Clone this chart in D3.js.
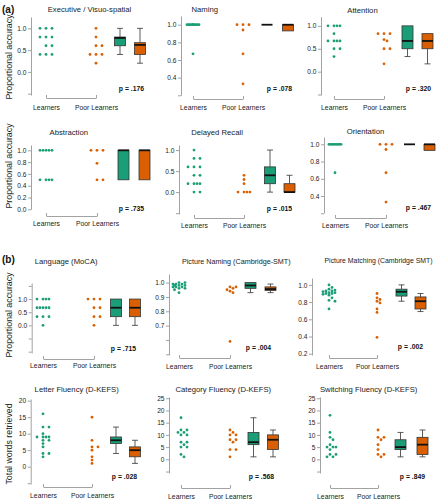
<!DOCTYPE html>
<html><head><meta charset="utf-8">
<script src="https://cdn.jsdelivr.net/npm/d3@7"></script>
<style>
body{margin:0;background:#fff}
svg{display:block}
text{font-family:"Liberation Sans",Arial,Helvetica,sans-serif}
</style>
</head><body>
<svg id="c" width="438" height="500"></svg>
<script>
// ---------------- DATA ----------------
const titles = ["Executive / Visuo-spatial","Naming","Attention","Abstraction","Delayed Recall","Orientation",
  "Language (MoCA)","Picture Naming (Cambridge-SMT)","Picture Matching (Cambridge SMT)",
  "Letter Fluency (D-KEFS)","Category Fluency (D-KEFS)","Switching Fluency (D-KEFS)"];
const groups = ["Learners","Poor Learners"];
const pValues = ["p = .176","p = .078","p = .320","p = .735","p = .015","p = .467",
  "p = .715","p = .004","p = .002","p = .028","p = .568","p = .849"];
const learners = [
  [1,1,1,0.8,0.8,0.8,0.6,0.6,0.4,0.4,0.4],
  [1,1,1,1,1,1,1,1,1,1,0.67],
  [1,1,1,1,0.83,0.67,0.67,0.67,0.67,0.5,0.5,0.33],
  [1,1,1,1,1,0.5,0.5,0.5,0.5],
  [1,0.8,0.8,0.6,0.6,0.6,0.4,0.4,0.2,0.2,0.2,0.2,0,0],
  [1,1,1,1,1,1,1,1,1,0.67],
  [1,1,1,1,0.67,0.67,0.67,0.67,0.67,0.33,0.33,0.33,0],
  [1.0,1.0,0.99,0.99,0.99,0.98,0.98,0.98,0.97,0.97,0.97,0.96,0.96,0.95,0.93],
  [1.0,0.97,0.95,0.94,0.93,0.93,0.92,0.91,0.91,0.9,0.9,0.89,0.88,0.85,0.82,0.81,0.72],
  [16,12,12,10,9,9,9,9,8,8,7,6,4,4,3],
  [17,12,12,11,11,10,10,7,7,6,5,5,2,1],
  [18,11,9,8,6,5,5,5,4,2,2,1,1]
];
const poorLearners = [
  [1,0.8,0.6,0.6,0.4,0.4,0.4,0.2],
  [1,1,1,0.94,0.67,0.33],
  [0.83,0.83,0.83,0.7,0.67,0.5,0.5,0.17],
  [1,1,1,0.78,0.5,0.5],
  [0.4,0.3,0.2,0,0,0,0],
  [1,1,1,0.94,0.67,0.33],
  [1,1,1,0.67,0.67,0.33,0.33,0],
  [0.97,0.97,0.96,0.95,0.94,0.93,0.59],
  [0.9,0.85,0.83,0.81,0.79,0.72,0.68,0.39],
  [15,8,6,6,5,3,2,1],
  [12,11,10,10,8,8,7,4,4,1],
  [12,9,9,8,6,4,2,2,1]
];
// box stats: [min, q1, median, q3, max]
const learnersBox = [
  [0.4,0.6,0.78,0.8,1.0],[1,1,1,1,1],[0.33,0.5,0.67,1,1],[0.5,0.5,1,1,1],
  [0,0.2,0.4,0.6,1],[1,1,1,1,1],[0,0.33,0.67,1,1],[0.93,0.96,0.98,1,1],
  [0.81,0.87,0.92,0.95,1.0],[4,7,8,9,12],[1,6,7,11,17],[1,4,5,8,11]
];
const poorBox = [
  [0.2,0.4,0.62,0.67,1.0],[0.93,0.93,1,1,1],[0.17,0.5,0.67,0.83,0.83],[0.5,0.5,1,1,1],
  [0,0,0,0.2,0.4],[0.93,0.93,1,1,1],[0,0.33,0.67,1,1],[0.93,0.945,0.955,0.97,0.99],
  [0.69,0.72,0.81,0.86,0.9],[1,3,5,6,8],[1,4,8,10,12],[1,2,6,9,12]
];
const yTicks = [
  [-0.5,0,0.5,1],[0.2,0.4,0.6,0.8,1],[-0.5,0,0.5,1],[0,0.2,0.4,0.6,0.8,1],
  [-0.5,0,0.5,1],[0.2,0.4,0.6,0.8,1],[-1,-0.5,0,0.5,1,1.5],[0.5,0.6,0.7,0.8,0.9,1],
  [0.2,0.4,0.6,0.8,1],[-5,0,5,10,15,20],[-5,0,5,10,15,20,25],[-5,0,5,10,15,20,25]
];
const yTickLabels = [
  ["0.0","0.5","1.0"],["0.4","0.6","0.8","1.0"],["0.0","0.5","1.0"],["0.0","0.2","0.4","0.6","0.8","1.0"],
  ["0.0","0.5","1.0"],["0.4","0.6","0.8","1.0"],["0.0","0.5","1.0"],["0.7","0.8","0.9","1.0"],
  ["0.2","0.4","0.6","0.8","1.0"],["0","5","10","15","20"],["0","5","10","15","20","25"],["0","5","10","15","20","25"]
];
const yLabels = ["Proportional accuracy","Proportional accuracy","Proportional accuracy","Total words retrieved"];
const sectionLabels = ["(a)","(b)"];

// ---------------- LAYOUT (pixels) ----------------
const layout = [
  {ax:31, dom:[-0.53,1.26], px:[95,17], bx:[46,96], by:98, ly:108, box:[120,140], tx:89.5, ty:9.5, pX:144, pY:89},
  {ax:181, dom:[0.2,1.1], px:[95.3,15.9], bx:[193,243], by:99, ly:108, box:[267,288], tx:204.7, ty:9.5, pX:292, pY:89},
  {ax:321, dom:[-0.51,1.2], px:[95,16.7], bx:[334,384], by:99, ly:108, box:[407.5,427.5], tx:362.5, ty:10, pX:431, pY:89},
  {ax:31, dom:[0,1.09], px:[209.3,145], bx:[46,97], by:216, ly:224, box:[123.5,144.5], tx:68.8, ty:132.3, pX:144, pY:209},
  {ax:179, dom:[-0.52,1.12], px:[214,145], bx:[194,244], by:218, ly:226, box:[270,289.5], tx:217, ty:132.3, pX:292, pY:209},
  {ax:324, dom:[0.203,1.085], px:[213,137], bx:[335,386], by:218, ly:226, box:[409.5,429.5], tx:365.5, ty:131, pX:431, pY:208},
  {ax:31.7, dom:[-1.05,1.61], px:[353,283], bx:[43,94], by:359, ly:366, box:[116,135], tx:66.2, ty:261, pX:136, pY:349},
  {ax:169, dom:[0.495,1.06], px:[355,274], bx:[179,230], by:358, ly:367, box:[250.5,270.5], tx:236.3, ty:261, fs:7.2, pX:271, pY:348},
  {ax:312, dom:[0.185,1.08], px:[355,278], bx:[329,377], by:358, ly:367, box:[401.5,420.5], tx:378.5, ty:261, fs:6.9, pX:423, pY:347},
  {ax:30.7, dom:[-5.24,20.5], px:[484,399], bx:[43,92], by:487, ly:496, box:[116,135], tx:76.7, ty:389, pX:137, pY:477},
  {ax:169, dom:[-5.6,25.5], px:[473,397], bx:[181,230], by:488, ly:497, box:[253.5,273], tx:223.3, ty:389, pX:274, pY:477},
  {ax:320, dom:[-5.6,25.5], px:[473,397], bx:[330,378], by:488, ly:497, box:[400.5,422.5], tx:368.7, ty:389, pX:425, pY:477}
];
const yLabelPos = [[9,57],[9,166],[9,315],[9,444]];
const sectionPos = [[2,9],[2,259]];

const COLORS = ["#1b9e77","#d95f02"];
const AXIS_COL = "#8a8a8a", TEXT_COL = "#222";

const svg = d3.select("#c");

function offsets(vals, y){
  const placed = [], offs = [];
  const cands = [0,3,-3,6,-6,1.5,-1.5,4.5,-4.5];
  vals.forEach(v=>{
    const py = y(v); let best = 0, bestD = -1;
    for (const c of cands){
      let md = Infinity;
      for (const p of placed){ const d = Math.hypot(p[0]-c, p[1]-py); if (d < md) md = d; }
      if (md >= 3.2){ best = c; break; }
      if (md > bestD){ bestD = md; best = c; }
    }
    placed.push([best, py]); offs.push(best);
  });
  return offs;
}

layout.forEach((L, i) => {
  const g = svg.append("g");
  const y = d3.scaleLinear().domain(L.dom).range(L.px);
  const fmt = i >= 9 ? d3.format("d") : d3.format(".1f");
  const labels = yTickLabels[i];
  const yAxis = d3.axisLeft(y).tickValues(yTicks[i]).tickSize(3).tickSizeOuter(0).tickPadding(1.5)
    .tickFormat(v => labels.includes(fmt(v)) ? fmt(v) : "");
  const ag = g.append("g").attr("transform", `translate(${L.ax},0)`).call(yAxis);
  ag.select(".domain").attr("stroke", AXIS_COL).attr("stroke-width", 0.8);
  ag.selectAll(".tick line").attr("stroke", AXIS_COL).attr("stroke-width", 0.8);
  ag.selectAll(".tick text").attr("fill", TEXT_COL).style("font-size", "6.6px");

  // x bracket
  const x = d3.scalePoint().domain(groups).range(L.bx);
  const xAxis = d3.axisBottom(x).tickSize(-3).tickSizeOuter(0);
  const xg = g.append("g").attr("transform", `translate(0,${L.by})`).call(xAxis);
  xg.select(".domain").attr("stroke", AXIS_COL).attr("stroke-width", 0.8);
  xg.selectAll(".tick line").attr("stroke", AXIS_COL).attr("stroke-width", 0.8);
  xg.selectAll(".tick text").attr("fill", TEXT_COL).style("font-size", "6.8px")
    .attr("y", L.ly - L.by).attr("dy", "0.35em");

  // dots
  [learners[i], poorLearners[i]].forEach((vals, k) => {
    const offs = offsets(vals, y);
    g.append("g").selectAll("circle").data(vals).join("circle")
      .attr("cx", (d, j) => x(groups[k]) + offs[j])
      .attr("cy", d => y(d))
      .attr("r", 1.4)
      .attr("fill", COLORS[k]);
  });

  // boxes
  [learnersBox[i], poorBox[i]].forEach((b, k) => {
    const cx = L.box[k], w = 11, cap = 6;
    const bg = g.append("g");
    const [mn, q1, md, q3, mx] = b;
    if (q1 > mn) {
      bg.append("line").attr("x1", cx).attr("x2", cx).attr("y1", y(q1)).attr("y2", y(mn)).attr("stroke", "#333").attr("stroke-width", 0.8);
      bg.append("line").attr("x1", cx - cap/2).attr("x2", cx + cap/2).attr("y1", y(mn)).attr("y2", y(mn)).attr("stroke", "#333").attr("stroke-width", 0.8);
    }
    if (mx > q3) {
      bg.append("line").attr("x1", cx).attr("x2", cx).attr("y1", y(q3)).attr("y2", y(mx)).attr("stroke", "#333").attr("stroke-width", 0.8);
      bg.append("line").attr("x1", cx - cap/2).attr("x2", cx + cap/2).attr("y1", y(mx)).attr("y2", y(mx)).attr("stroke", "#333").attr("stroke-width", 0.8);
    }
    bg.append("rect").attr("x", cx - w/2).attr("width", w)
      .attr("y", y(q3)).attr("height", Math.max(0, y(q1) - y(q3)))
      .attr("fill", COLORS[k]).attr("stroke", "#333").attr("stroke-width", 0.8);
    bg.append("line").attr("x1", cx - w/2).attr("x2", cx + w/2).attr("y1", y(md)).attr("y2", y(md))
      .attr("stroke", "#111").attr("stroke-width", 1.8);
  });

  // title
  g.append("text").attr("x", L.tx).attr("y", L.ty).attr("dy", "0.35em").attr("text-anchor", "middle")
    .attr("fill", TEXT_COL).style("font-size", (L.fs || 7.7) + "px").text(titles[i]);
  // p value
  g.append("text").attr("x", L.pX).attr("y", L.pY).attr("dy", "0.35em").attr("text-anchor", "end")
    .attr("fill", "#111").style("font-size", "6.8px").style("font-weight", "bold").text(pValues[i]);
});

yLabels.forEach((t, i) => {
  svg.append("text").attr("transform", `translate(${yLabelPos[i][0]},${yLabelPos[i][1]}) rotate(-90)`)
    .attr("text-anchor", "middle").attr("dy", "0.35em").attr("fill", TEXT_COL)
    .style("font-size", "8.8px").text(t);
});
sectionLabels.forEach((t, i) => {
  svg.append("text").attr("x", sectionPos[i][0]).attr("y", sectionPos[i][1]).attr("dy", "0.35em")
    .attr("fill", "#111").style("font-size", "10px").style("font-weight", "bold").text(t);
});
</script>
</body></html>
